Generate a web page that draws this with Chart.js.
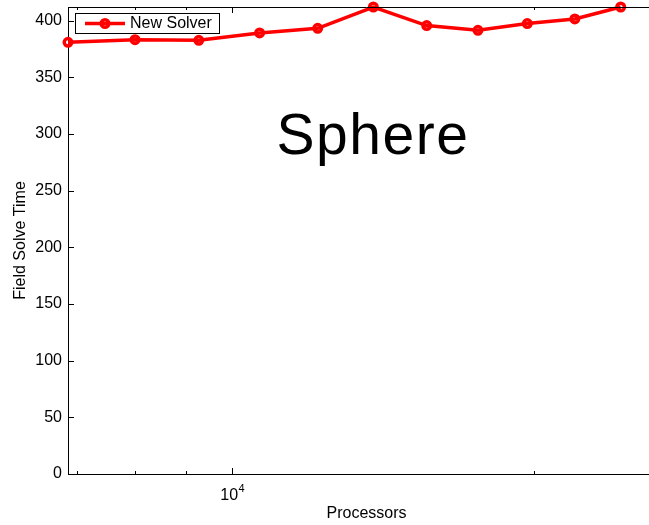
<!DOCTYPE html>
<html>
<head>
<meta charset="utf-8">
<script src="https://cdn.jsdelivr.net/npm/chart.js@4.4.1/dist/chart.umd.min.js"></script>
<style>
  html, body { margin: 0; padding: 0; background: #fff; overflow: hidden; }
  #wrap { width: 665px; height: 525px; }
</style>
</head>
<body>
<div id="wrap"><canvas id="chart" width="665" height="525"></canvas></div>
<script>
// processor counts are cubes, 19^3 .. 29^3
const processors = [6859, 8000, 9261, 10648, 12167, 13824, 15625, 17576, 19683, 21952, 24389];
const solveTimes = [380.8, 383.2, 382.6, 389.1, 393.2, 412, 395.6, 391.4, 397.4, 401.5, 412];
const seriesLabel = "New Solver";
const xTickValues = [7000, 8000, 9000, 10000, 20000];
const xMajorTicks = [10000];
const annotationText = "Sphere";

const FONT = "'Liberation Sans', Arial, Helvetica, sans-serif";
const RED = "#ff0000";

Chart.defaults.font.family = FONT;
Chart.defaults.font.size = 16;
Chart.defaults.color = "#000";

// MATLAB style: inward ticks, top box line, legend box, text annotation
const matlabAxes = {
  id: "matlabAxes",
  afterDraw(chart) {
    const { ctx, chartArea: a } = chart;
    const xs = chart.scales.x;
    const ys = chart.scales.y;
    ctx.save();
    ctx.strokeStyle = "#000";
    ctx.lineWidth = 1;

    // top box edge
    ctx.beginPath();
    ctx.moveTo(a.left, Math.round(a.top) + 0.5);
    ctx.lineTo(a.right, Math.round(a.top) + 0.5);
    ctx.stroke();

    // x ticks, bottom and top
    xTickValues.forEach((v) => {
      const px = Math.round(xs.getPixelForValue(v)) + 0.5;
      const len = xMajorTicks.includes(v) ? 6 : 3;
      ctx.beginPath();
      ctx.moveTo(px, a.bottom);
      ctx.lineTo(px, a.bottom - len);
      ctx.moveTo(px, a.top);
      ctx.lineTo(px, a.top + len);
      ctx.stroke();
    });

    // y ticks
    ys.ticks.forEach((t) => {
      const py = Math.round(ys.getPixelForValue(t.value)) + 0.5;
      ctx.beginPath();
      ctx.moveTo(a.left, py);
      ctx.lineTo(a.left + 6, py);
      ctx.stroke();
    });

    // x tick labels as 10^n
    ctx.fillStyle = "#000";
    ctx.textBaseline = "alphabetic";
    ctx.textAlign = "left";
    xMajorTicks.forEach((v) => {
      const px = xs.getPixelForValue(v);
      const exp = String(Math.round(Math.log10(v)));
      ctx.font = "16px " + FONT;
      const wBase = ctx.measureText("10").width;
      ctx.font = "11px " + FONT;
      const wExp = ctx.measureText(exp).width;
      const x0 = px - (wBase + wExp) / 2;
      ctx.font = "16px " + FONT;
      ctx.fillText("10", x0, 500);
      ctx.font = "11px " + FONT;
      ctx.fillText(exp, x0 + wBase + 0.5, 492);
    });

    // annotation
    ctx.font = "57px " + FONT;
    ctx.letterSpacing = "1.5px";
    ctx.textAlign = "center";
    ctx.fillText(annotationText, 373, 154);
    ctx.letterSpacing = "0px";

    // legend
    const lx = 75, ly = 13, lw = 144, lh = 20;
    ctx.fillStyle = "#fff";
    ctx.fillRect(lx, ly, lw, lh);
    ctx.strokeRect(lx + 0.5, ly + 0.5, lw, lh);
    const my = ly + lh / 2 + 0.5;
    ctx.strokeStyle = RED;
    ctx.lineWidth = 3.5;
    ctx.beginPath();
    ctx.moveTo(85, my);
    ctx.lineTo(125, my);
    ctx.stroke();
    ctx.beginPath();
    ctx.arc(105, my, 3.75, 0, Math.PI * 2);
    ctx.stroke();
    ctx.fillStyle = "#000";
    ctx.font = "16px " + FONT;
    ctx.textAlign = "left";
    ctx.textBaseline = "middle";
    ctx.fillText(seriesLabel, 130, my);
    ctx.restore();
  },
};

const ctx = document.getElementById("chart");
const chart = new Chart(ctx, {
  type: "line",
  data: {
    datasets: [
      {
        label: seriesLabel,
        data: processors.map((p, i) => ({ x: p, y: solveTimes[i] })),
        borderColor: RED,
        borderWidth: 3.5,
        pointRadius: 3.75,
        pointBorderWidth: 3.5,
        pointBorderColor: RED,
        pointBackgroundColor: "rgba(0,0,0,0)",
        tension: 0,
        clip: false,
      },
    ],
  },
  options: {
    responsive: false,
    animation: false,
    layout: { autoPadding: false, padding: { top: 7, left: 0, right: 0, bottom: 0 } },
    scales: {
      x: {
        type: "logarithmic",
        min: 6859,
        max: 27000,
        grid: { display: false, drawTicks: false },
        border: { display: true, color: "#000", width: 1 },
        ticks: { display: false },
        title: {
          display: true,
          text: "Processors",
          color: "#000",
          padding: { top: 0, bottom: 2 },
        },
        afterFit: (s) => {
          s.height = 51;
          s.paddingLeft = 0;
          s.paddingRight = 0;
        },
      },
      y: {
        min: 0,
        max: 412,
        grid: { display: false, drawTicks: false },
        border: { display: true, color: "#000", width: 1 },
        ticks: { stepSize: 50, includeBounds: false, padding: 6, color: "#000" },
        title: {
          display: true,
          text: "Field Solve Time",
          color: "#000",
          padding: { top: 11, bottom: 0 },
        },
        afterFit: (s) => {
          s.width = 68;
          s.paddingTop = 0;
          s.paddingBottom = 0;
        },
      },
    },
    plugins: {
      legend: { display: false },
      tooltip: { enabled: false },
    },
  },
  plugins: [matlabAxes],
});
</script>
</body>
</html>
